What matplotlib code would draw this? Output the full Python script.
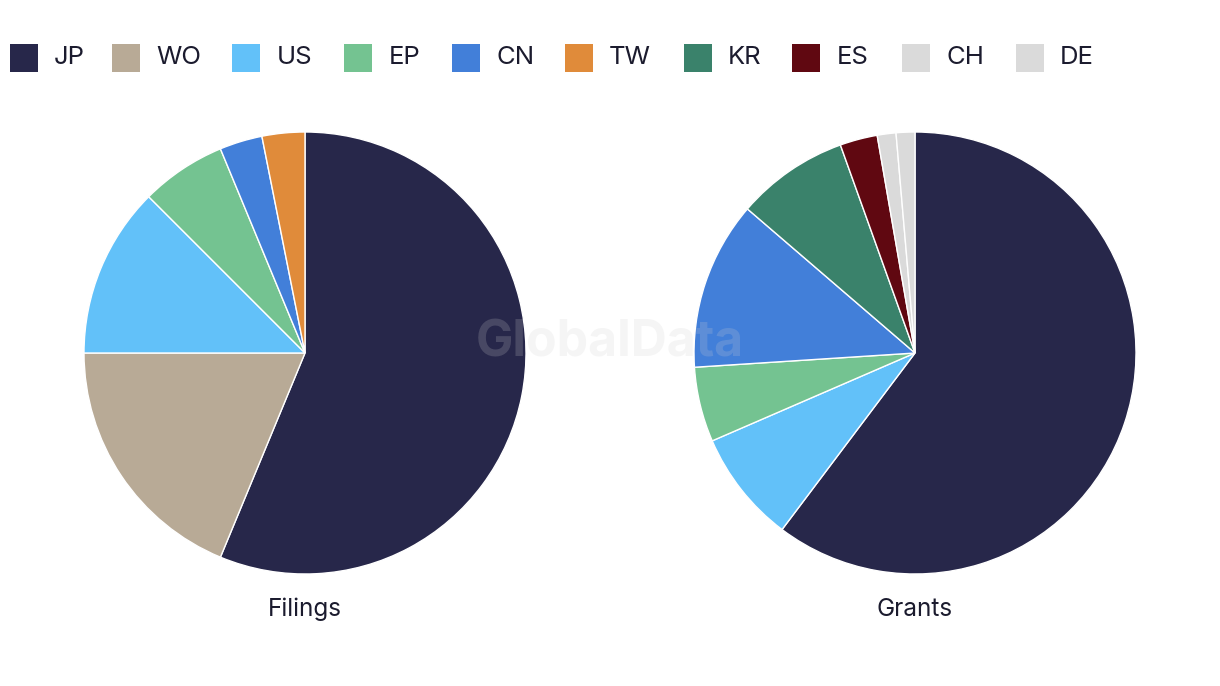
import matplotlib.pyplot as plt
from matplotlib.patches import Rectangle

# legend entries
codes = ["JP", "WO", "US", "EP", "CN", "TW", "KR", "ES", "CH", "DE"]
colors = ["#27274a", "#b8aa96", "#62c1f9", "#74c391", "#427fd9",
          "#e08b3a", "#3a826b", "#600811", "#dadada", "#dadada"]
color_of = dict(zip(codes, colors))

filings_codes = ["JP", "WO", "US", "EP", "CN", "TW"]
filings_values = [18, 6, 4, 2, 1, 1]

grants_codes = ["JP", "US", "EP", "CN", "KR", "ES", "CH", "DE"]
grants_values = [44, 6, 4, 9, 6, 2, 1, 1]

W, H = 1220, 686
plt.rcParams["font.family"] = ["Inter", "DejaVu Sans"]
fig = plt.figure(figsize=(W / 100, H / 100), dpi=100)

text_color = "#1b1b2e"
radius_px = 221


def draw_pie(cx, cy, codes_, values, title):
    ax = fig.add_axes([(cx - radius_px) / W, 1 - (cy + radius_px) / H,
                       2 * radius_px / W, 2 * radius_px / H])
    ax.pie(values, colors=[color_of[c] for c in codes_], startangle=90,
           counterclock=False, radius=1,
           wedgeprops=dict(edgecolor="white", linewidth=1))
    ax.set_xlim(-1, 1)
    ax.set_ylim(-1, 1)
    ax.set_aspect("equal")
    ax.axis("off")
    fig.text(cx / W, 1 - 609 / H, title, ha="center", va="center",
             fontsize=17.5, color=text_color)


draw_pie(305, 353, filings_codes, filings_values, "Filings")
draw_pie(915, 353, grants_codes, grants_values, "Grants")

# legend row drawn by hand
square_x = [10, 112, 232, 344, 452, 565, 684, 792, 902, 1016]
label_x = [54, 156, 277, 389, 496, 609, 728, 837, 947, 1060]
for code, sx, lx in zip(codes, square_x, label_x):
    fig.patches.append(Rectangle((sx / W, 1 - 72 / H), 28 / W, 28 / H,
                                 transform=fig.transFigure,
                                 facecolor=color_of[code], edgecolor="none"))
    fig.text(lx / W, 1 - 58 / H, code, ha="left", va="center",
             fontsize=18.5, color=text_color)

# watermark
fig.text(610 / W, 1 - 343 / H, "GlobalData", ha="center", va="center",
         fontsize=36, fontweight="bold", color="#cfcfcf", alpha=0.2,
         zorder=10)

fig.savefig("out.png", dpi=100)
